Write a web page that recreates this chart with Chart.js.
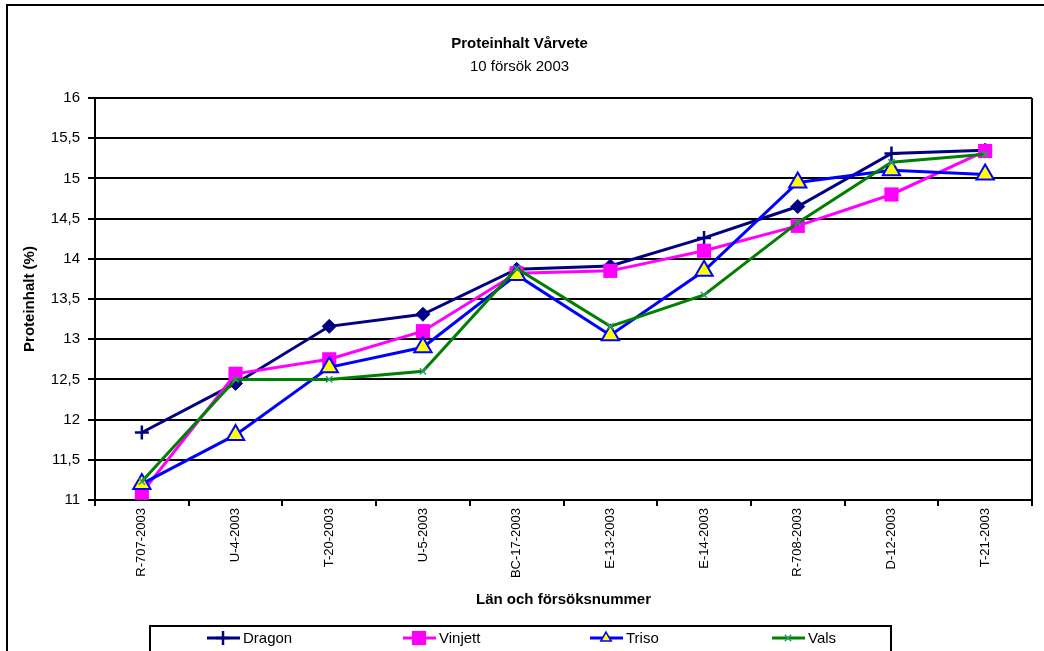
<!DOCTYPE html>
<html>
<head>
<meta charset="utf-8">
<script src="https://cdn.jsdelivr.net/npm/chart.js@4.4.1/dist/chart.umd.min.js"></script>
<style>
  html, body { margin: 0; padding: 0; background: #fff; }
  #wrap { position: relative; width: 1044px; height: 651px; }
</style>
</head>
<body>
<div id="wrap"><canvas id="proteinChart"></canvas></div>
<script>
const CATEGORIES = ["R-707-2003", "U-4-2003", "T-20-2003", "U-5-2003", "BC-17-2003",
                    "E-13-2003", "E-14-2003", "R-708-2003", "D-12-2003", "T-21-2003"];

const DRAGON  = [11.84, 12.45, 13.16, 13.31, 13.87, 13.91, 14.26, 14.65, 15.31, 15.35];
const VINJETT = [11.09, 12.57, 12.75, 13.10, 13.82, 13.85, 14.10, 14.41, 14.80, 15.34];
const TRISO   = [11.20, 11.81, 12.65, 12.90, 13.80, 13.05, 13.85, 14.95, 15.10, 15.05];
const VALS    = [11.23, 12.50, 12.50, 12.60, 13.88, 13.16, 13.55, 14.45, 15.20, 15.30];

const SERIES_NAMES = ["Dragon", "Vinjett", "Triso", "Vals"];

const Y_MIN = 11;
const Y_MAX = 16;
const Y_STEP = 0.5;

// Dragon's markers switch between "+" and diamond in the original
const DRAGON_MARKERS = ["cross", "rectRot", "rectRot", "rectRot", "rectRot",
                        "rectRot", "cross", "rectRot", "cross", "cross"];

Chart.defaults.font.family = "'Liberation Sans', Arial, sans-serif";
Chart.defaults.color = "#000";

const LEGEND_X = [207, 403, 590, 772];

const frame = {
  id: "frame",
  beforeDraw(chart) {
    const ctx = chart.ctx;
    ctx.save();
    ctx.fillStyle = "#fff";
    ctx.fillRect(0, 0, chart.width, chart.height);
    ctx.strokeStyle = "#000";
    ctx.lineWidth = 2;
    ctx.strokeRect(7, 5, 1100, 700);
    ctx.restore();
  },
  afterDraw(chart) {
    const { ctx, chartArea: a } = chart;
    ctx.save();
    ctx.strokeStyle = "#000";
    ctx.lineWidth = 2;
    ctx.beginPath();
    ctx.moveTo(a.right, a.top);
    ctx.lineTo(a.right, a.bottom);
    ctx.stroke();

    // legend box (bottom is cut off by the picture)
    ctx.fillStyle = "#fff";
    ctx.fillRect(150, 626, 741, 40);
    ctx.strokeRect(150, 626, 741, 40);

    const y = 638;
    ctx.font = "15px 'Liberation Sans', Arial, sans-serif";
    ctx.textBaseline = "middle";
    chart.data.datasets.forEach((ds, i) => {
      const x0 = LEGEND_X[i];
      ctx.strokeStyle = ds.borderColor;
      ctx.lineWidth = ds.borderWidth;
      ctx.beginPath();
      ctx.moveTo(x0, y);
      ctx.lineTo(x0 + 33, y);
      ctx.stroke();
      ctx.fillStyle = ds.legendFill;
      ctx.strokeStyle = ds.legendStroke;
      ctx.lineWidth = ds.legendBorder;
      Chart.helpers.drawPoint(ctx, {
        pointStyle: ds.legendStyle,
        rotation: 0,
        radius: ds.legendRadius,
        borderWidth: ds.legendBorder
      }, x0 + 16, y);
      ctx.fillStyle = "#000";
      ctx.fillText(ds.label, x0 + 36, y + 1);
    });
    ctx.restore();
  }
};

new Chart(document.getElementById("proteinChart"), {
  type: "line",
  data: {
    labels: CATEGORIES,
    datasets: [
      {
        label: SERIES_NAMES[0],
        data: DRAGON,
        order: 4,
        borderColor: "#000080",
        backgroundColor: "#000080",
        borderWidth: 3,
        pointStyle: DRAGON_MARKERS,
        pointRadius: 7,
        pointBorderWidth: DRAGON_MARKERS.map(s => s === "cross" ? 2.5 : 1),
        legendStyle: "cross", legendRadius: 7, legendBorder: 2.5,
        legendFill: "#000080", legendStroke: "#000080"
      },
      {
        label: SERIES_NAMES[1],
        data: VINJETT,
        order: 3,
        borderColor: "#FF00FF",
        backgroundColor: "#FF00FF",
        borderWidth: 3,
        pointStyle: "rect",
        pointRadius: 10,
        pointBorderWidth: 0,
        legendStyle: "rect", legendRadius: 10, legendBorder: 0,
        legendFill: "#FF00FF", legendStroke: "#FF00FF"
      },
      {
        label: SERIES_NAMES[2],
        data: TRISO,
        order: 2,
        borderColor: "#0000FF",
        backgroundColor: "#FFFF00",
        borderWidth: 3,
        pointStyle: "triangle",
        pointRadius: 10,
        pointBorderColor: "#0000FF",
        pointBackgroundColor: "#FFFF00",
        pointBorderWidth: 2,
        legendStyle: "triangle", legendRadius: 6, legendBorder: 1.5,
        legendFill: "#FFFF00", legendStroke: "#0000FF"
      },
      {
        label: SERIES_NAMES[3],
        data: VALS,
        order: 1,
        borderColor: "#008000",
        backgroundColor: "#339966",
        borderWidth: 3,
        pointStyle: "crossRot",
        pointRadius: 4.5,
        pointBorderColor: "#339966",
        pointBorderWidth: 1.5,
        legendStyle: "crossRot", legendRadius: 4.5, legendBorder: 1.5,
        legendFill: "#339966", legendStroke: "#339966"
      }
    ]
  },
  options: {
    responsive: true,
    maintainAspectRatio: false,
    animation: false,
    clip: false,
    layout: { padding: { top: 35, left: 0, right: 5, bottom: 0 } },
    elements: { line: { tension: 0 } },
    scales: {
      x: {
        offset: true,
        grid: {
          offset: true,
          drawOnChartArea: false,
          color: "#000",
          lineWidth: 2,
          tickLength: 6
        },
        border: { color: "#000", width: 2 },
        ticks: {
          minRotation: 90,
          maxRotation: 90,
          padding: 2,
          autoSkip: false,
          font: { size: 13 }
        },
        title: {
          display: true,
          text: "Län och försöksnummer",
          font: { size: 15, weight: "bold" },
          padding: { top: 0, bottom: 42 }
        },
        afterFit: s => {
          s.height = 151;
          s.paddingLeft = 0;
          s.paddingRight = 0;
        }
      },
      y: {
        min: Y_MIN,
        max: Y_MAX,
        grid: { color: "#000", lineWidth: 2, tickLength: 7 },
        border: { color: "#000", width: 2 },
        ticks: {
          stepSize: Y_STEP,
          padding: 8,
          font: { size: 15 },
          callback: v => String(v).replace(".", ",")
        },
        title: {
          display: true,
          text: "Proteinhalt (%)",
          font: { size: 15, weight: "bold" },
          padding: { top: 21, bottom: 0 }
        },
        afterFit: s => { s.width = 95; }
      }
    },
    plugins: {
      legend: { display: false },
      tooltip: { enabled: false },
      title: {
        display: true,
        text: "Proteinhalt Vårvete",
        font: { size: 15, weight: "bold" },
        padding: { top: 0, bottom: 5 }
      },
      subtitle: {
        display: true,
        text: "10 försök 2003",
        color: "#000",
        font: { size: 15 },
        padding: { top: 0, bottom: 22 }
      }
    }
  },
  plugins: [frame]
});
</script>
</body>
</html>
